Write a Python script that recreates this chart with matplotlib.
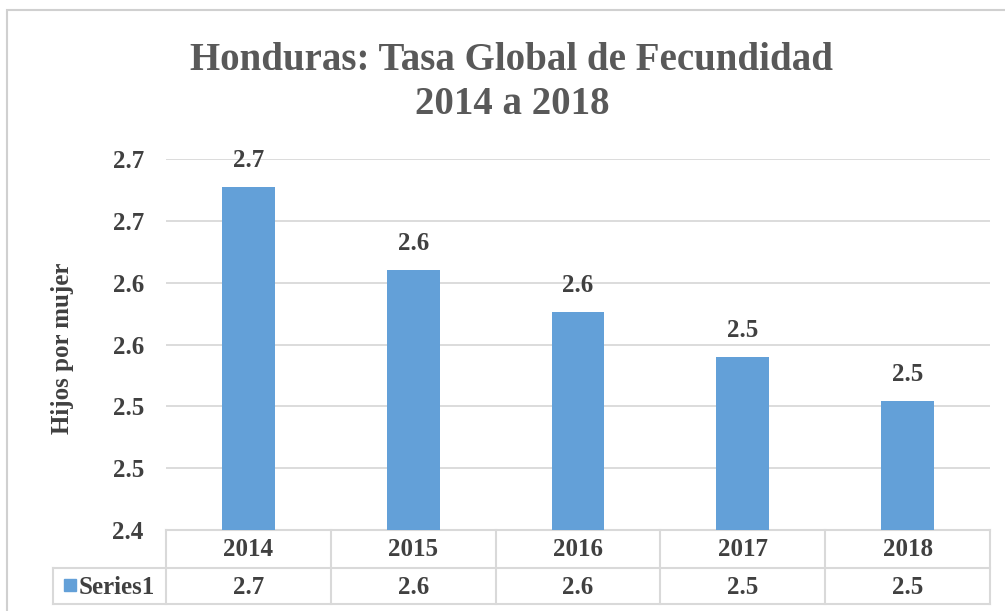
import matplotlib
matplotlib.use('Agg')
import matplotlib.pyplot as plt
from matplotlib.transforms import blended_transform_factory
from matplotlib.patches import Rectangle
from matplotlib.lines import Line2D

years = ['2014', '2015', '2016', '2017', '2018']
values = [2.677, 2.610, 2.576, 2.540, 2.504]
ytick_values = [2.40, 2.45, 2.50, 2.55, 2.60, 2.65, 2.70]
ytick_labels = ['2.4', '2.5', '2.5', '2.6', '2.6', '2.7', '2.7']
series_name = 'Series1'
title_lines = ['Honduras: Tasa Global de Fecundidad', '2014 a 2018']
ylabel = 'Hijos por mujer'

plt.rcParams['font.family'] = ['Liberation Serif', 'DejaVu Serif']
plt.rcParams['font.weight'] = 'bold'

W, H = 1005, 611
fig = plt.figure(figsize=(W / 100, H / 100), dpi=100)
fig.patch.set_facecolor('white')


def fx(px):
    return px / W


def fy(py):
    return 1 - py / H


BAR = '#63A0D8'
GRID = '#D9D9D9'
TXT = '#404040'

# outer chart border
fig.add_artist(Rectangle((fx(7), fy(700)), fx(1100), fy(10) - fy(700),
                         transform=fig.transFigure, fill=False,
                         edgecolor='#D0D0D0', lw=1.5))

ax = fig.add_axes([fx(166), fy(530), fx(990) - fx(166), fy(159) - fy(530)])
xs = list(range(len(years)))
bars = ax.bar(xs, values, width=0.32, color=BAR, zorder=3)
ax.set_xlim(-0.5, len(years) - 0.5)
ax.set_ylim(2.4, 2.7)
ax.set_yticks(ytick_values)
ax.set_yticklabels(ytick_labels)
ax.set_xticks([])
for s in ax.spines.values():
    s.set_visible(False)
ax.grid(axis='y', color=GRID, lw=1.3, zorder=0)
ax.set_axisbelow(True)
ax.tick_params(axis='y', length=0, pad=16, labelsize=18, labelcolor=TXT)

for xi, v in zip(xs, values):
    ax.annotate(f'{v:.1f}', (xi, v), xytext=(0, 11), textcoords='offset points',
                ha='center', va='bottom', fontsize=18, color=TXT, fontweight='bold')

# y label
fig.text(fx(62), fy(348), ylabel, rotation=90, ha='center', va='center',
         fontsize=18, color=TXT, fontweight='bold')

# title
fig.text(fx(512), fy(61), title_lines[0], ha='center', va='center',
         fontsize=28, color='#595959', fontweight='bold')
fig.text(fx(512), fy(104), title_lines[1], ha='center', va='center',
         fontsize=28, color='#595959', fontweight='bold')

# data table
tr = blended_transform_factory(ax.transData, fig.transFigure)
n = len(years)
y_top, y_mid, y_bot = fy(530), fy(568), fy(604)
lw = 1.5
ax.add_line(Line2D([-0.5, n - 0.5], [y_top, y_top], transform=tr, color=GRID, lw=lw, clip_on=False))
fig.add_artist(Line2D([fx(53), fx(990)], [y_mid, y_mid], transform=fig.transFigure, color=GRID, lw=lw))
fig.add_artist(Line2D([fx(53), fx(990)], [y_bot, y_bot], transform=fig.transFigure, color=GRID, lw=lw))
fig.add_artist(Line2D([fx(53), fx(53)], [y_mid, y_bot], transform=fig.transFigure, color=GRID, lw=lw))
for i in range(n + 1):
    ax.add_line(Line2D([i - 0.5, i - 0.5], [y_top, y_bot], transform=tr, color=GRID, lw=lw, clip_on=False))
for xi, yr, v in zip(xs, years, values):
    ax.text(xi, fy(550), yr, transform=tr, ha='center', va='center', fontsize=18, color=TXT)
    ax.text(xi, fy(587), f'{v:.1f}', transform=tr, ha='center', va='center', fontsize=18, color=TXT)

fig.add_artist(Rectangle((fx(64), fy(591)), fx(12), fy(579) - fy(591),
                         transform=fig.transFigure, color=BAR))
fig.text(fx(79), fy(587), series_name, ha='left', va='center', fontsize=18, color=TXT)

fig.savefig('out.png', dpi=100)
